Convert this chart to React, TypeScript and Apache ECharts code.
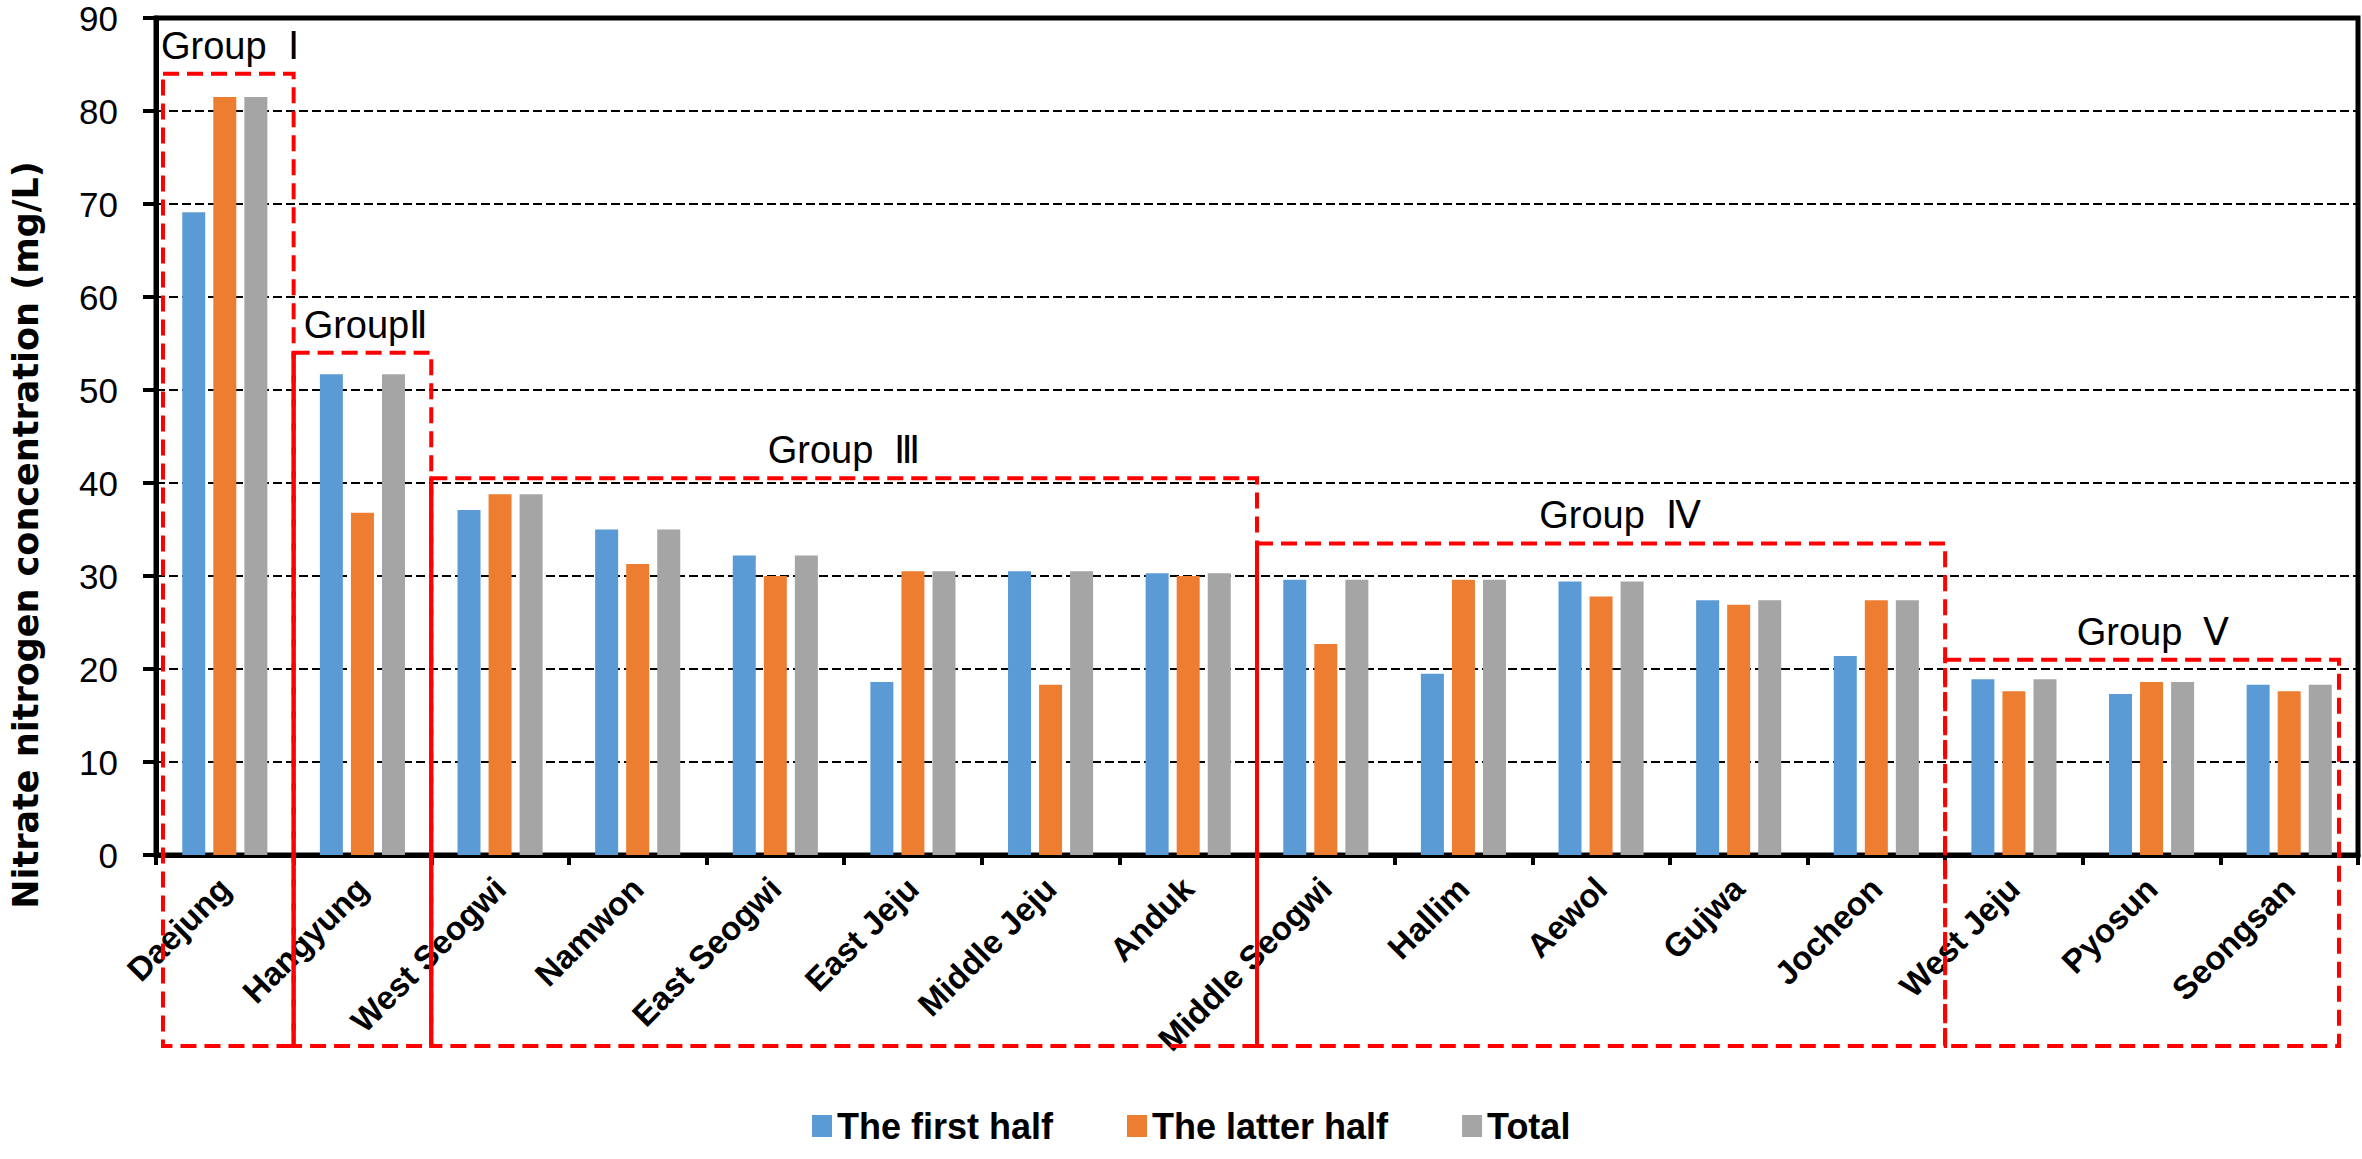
import React, { useEffect, useRef } from "react";
import * as echarts from "echarts";

const categories = [
  "Daejung", "Hangyung", "West Seogwi", "Namwon", "East Seogwi", "East Jeju",
  "Middle Jeju", "Anduk", "Middle Seogwi", "Hallim", "Aewol", "Gujwa",
  "Jocheon", "West Jeju", "Pyosun", "Seongsan",
];
const firstHalf = [69.1, 51.7, 37.1, 35.0, 32.2, 18.6, 30.5, 30.3, 29.6, 19.5, 29.4, 27.4, 21.4, 18.9, 17.3, 18.3];
const latterHalf = [81.5, 36.8, 38.8, 31.3, 30.0, 30.5, 18.3, 30.0, 22.7, 29.6, 27.8, 26.9, 27.4, 17.6, 18.6, 17.6];
const total = [81.5, 51.7, 38.8, 35.0, 32.2, 30.5, 30.5, 30.3, 29.6, 29.6, 29.4, 27.4, 27.4, 18.9, 18.6, 18.3];
const seriesNames = ["The first half", "The latter half", "Total"];
const seriesColors = ["#5B9BD5", "#ED7D31", "#A5A5A5"];
const yMin = 0;
const yMax = 90;
const yInterval = 10;
const yTitle = "Nitrate nitrogen concentration (mg/L)";

// Group annotations: label, first category boundary, last category boundary, top value
const groupLabels = ["Group  \u2160", "Group\u2161", "Group  \u2162", "Group  \u2163", "Group  \u2164"];
const groupStart = [0, 1, 2, 8, 13];
const groupEnd = [1, 2, 8, 13, 16];
const groupTop = [84, 54, 40.5, 33.5, 21];

export default function App() {
  const ref = useRef<HTMLDivElement>(null);

  useEffect(() => {
    if (!ref.current) return;
    const chart = echarts.init(ref.current, null, { renderer: "svg" });
    const barSeries = [firstHalf, latterHalf, total].map((d, i) => ({
      name: seriesNames[i],
      type: "bar",
      data: d,
      barWidth: 23,
      barGap: "35%",
      itemStyle: { color: seriesColors[i] },
    }));
    chart.setOption({
      animation: false,
      backgroundColor: "#ffffff",
      grid: {
        left: 156,
        top: 18,
        width: 2202,
        height: 837,
        show: true,
        borderColor: "#000",
        borderWidth: 5,
        containLabel: false,
      },
      legend: {
        data: seriesNames,
        left: 812,
        top: 1106,
        padding: 0,
        itemWidth: 20,
        itemHeight: 22,
        itemGap: 74,
        icon: "rect",
        textStyle: {
          fontFamily: "Liberation Sans",
          fontWeight: "bold",
          fontSize: 36,
          lineHeight: 40,
          color: "#000",
        },
      },
      xAxis: {
        type: "category",
        data: categories,
        boundaryGap: true,
        axisLine: { show: true, lineStyle: { color: "#000", width: 5 } },
        axisTick: { show: true, length: 10, lineStyle: { color: "#000", width: 4 } },
        axisLabel: {
          rotate: 45,
          interval: 0,
          margin: 28,
          fontFamily: "Liberation Sans",
          fontWeight: "bold",
          fontSize: 33,
          color: "#000",
        },
        splitLine: { show: false },
      },
      yAxis: {
        type: "value",
        min: yMin,
        max: yMax,
        interval: yInterval,
        axisLine: { show: true, lineStyle: { color: "#000", width: 5 } },
        axisTick: { show: true, length: 13, lineStyle: { color: "#000", width: 4 } },
        axisLabel: {
          margin: 38,
          fontFamily: "Liberation Sans",
          fontSize: 35,
          color: "#000",
        },
        splitLine: { show: true, lineStyle: { color: "#000", width: 2, type: [9, 4] } },
      },
      series: barSeries,
    });

    const xc = (i: number) => chart.convertToPixel({ xAxisIndex: 0 }, i) as number;
    const yp = (v: number) => chart.convertToPixel({ yAxisIndex: 0 }, v) as number;
    const band = xc(1) - xc(0);
    const boundary = (i: number) => xc(0) - band / 2 + i * band;
    const boxBottom = 1046;
    const red = "#ff0000";
    const graphics: any[] = [];

    groupLabels.forEach((lab, g) => {
      let left = boundary(groupStart[g]);
      let right = boundary(groupEnd[g]);
      if (g === 0) left += 7;
      if (g === groupLabels.length - 1) right -= 19;
      const top = yp(groupTop[g]);
      graphics.push({
        type: "rect",
        z: 100,
        shape: { x: left, y: top, width: right - left, height: boxBottom - top },
        style: { fill: "none", stroke: red, lineWidth: 4, lineDash: [16, 8] },
      });
      let tx = (left + right) / 2;
      let align = "center";
      if (g === 0) { tx = left - 2; align = "left"; }
      if (g === 1) { tx = left + 10; align = "left"; }
      if (g === 3) tx += 19;
      if (g === 4) tx += 11;
      graphics.push({
        type: "text",
        z: 100,
        x: tx,
        y: top - 28,
        style: {
          text: lab,
          fontFamily: "Liberation Sans",
          fontSize: 38,
          fill: "#000",
          align,
          verticalAlign: "middle",
        },
      });
    });

    // shared edges appear solid where both boxes overlap
    [1, 2, 3].forEach((g) => {
      const x = boundary(groupStart[g]);
      graphics.push({
        type: "line",
        z: 101,
        shape: { x1: x, y1: yp(groupTop[g]), x2: x, y2: boxBottom },
        style: { stroke: red, lineWidth: 4 },
      });
    });

    graphics.push({
      type: "text",
      z: 100,
      x: 26,
      y: 535,
      rotation: Math.PI / 2,
      style: {
        text: yTitle,
        fontFamily: "DejaVu Sans",
        fontWeight: "bold",
        fontSize: 35,
        fill: "#000",
        align: "center",
        verticalAlign: "middle",
      },
    });

    chart.setOption({ graphic: graphics });

    return () => chart.dispose();
  }, []);

  return (
    <div
      ref={ref}
      style={{ position: "absolute", left: 0, top: 0, width: 2362, height: 1159, background: "#fff" }}
    />
  );
}
